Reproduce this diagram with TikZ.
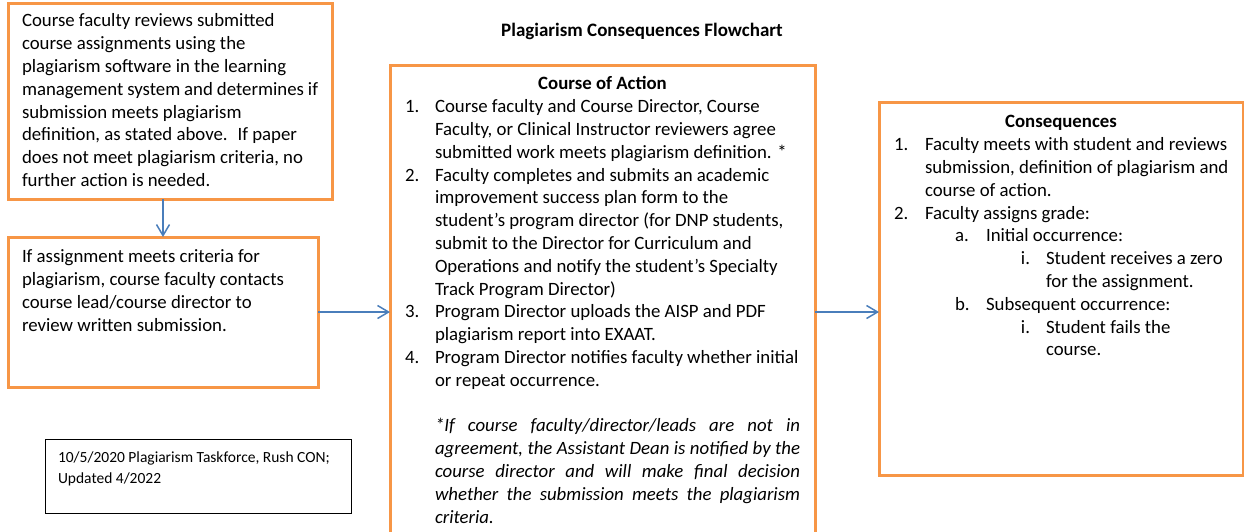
\documentclass[tikz,border=0pt]{standalone}
\usepackage{fontspec}
\setmainfont{Carlito}
\usepackage{enumitem}
\usetikzlibrary{arrows.meta,positioning}
\definecolor{edge}{HTML}{F79646}
\definecolor{link}{HTML}{4A7EBB}

% fixed-size text block used inside the boxes
\newcommand{\boxtext}[3]{\begin{minipage}[t][#2][t]{#1}\raggedright #3\end{minipage}}

\begin{document}
\begin{tikzpicture}[x=1pt,y=-1pt,>={Straight Barb[length=11pt,width=13pt]},
 box/.style={draw=edge,line width=3pt,outer sep=0pt,inner xsep=14pt,inner ysep=8pt,
 anchor=north west},
 memo/.style={draw=black,line width=1pt,outer sep=0pt,inner xsep=13pt,inner ysep=9pt,
 anchor=north west,font=\fontsize{15.5}{20.7}\selectfont},
 flow/.style={->,draw=link,line width=1.5pt},
 font=\fontsize{18.8}{22.8}\selectfont]
\useasboundingbox (0,0) rectangle (1244,531);
\clip (0,0) rectangle (1244,531);
\node[anchor=center,font=\fontsize{19}{22}\selectfont\bfseries] (title) at (642,31)
 {Plagiarism Consequences Flowchart};
% left column
\node[box] (review) at (8,3) {\boxtext{296pt}{180pt}{\strut Course faculty reviews submitted\\
 course assignments using the\\
 plagiarism software in the learning\\
 management system and determines if\\
 submission meets plagiarism\\
 definition, as stated above.~ If paper\\
 does not meet plagiarism criteria, no\\
 further action is needed.}};
\node[box,below right=38pt and 0pt of review.south west,inner ysep=10pt] (contact)
 {\boxtext{282pt}{130pt}{\strut If assignment meets criteria for\\
 plagiarism, course faculty contacts\\
 course lead/course director to\\
 review written submission.}};
\node[memo] (credit) at (45,439) {\boxtext{280pt}{56pt}{\strut 10/5/2020 Plagiarism Taskforce, Rush CON;\\
 Updated 4/2022}};
% middle column, runs off the bottom
\node[box,inner xsep=15pt,inner ysep=9pt] (action) at (390,65) {\boxtext{395pt}{477pt}{%
 {\centering\bfseries\strut Course of Action\par}
 \begin{enumerate}[nosep,leftmargin=30pt,labelwidth=30pt,labelsep=0pt,align=left,label=\arabic*.]
 \item Course faculty and Course Director, Course\\
 Faculty, or Clinical Instructor reviewers agree\\
 submitted work meets plagiarism definition. *
 \item Faculty completes and submits an academic\\
 improvement success plan form to the\\
 student’s program director (for DNP students,\\
 submit to the Director for Curriculum and\\
 Operations and notify the student’s Specialty\\
 Track Program Director)
 \item Program Director uploads the AISP and PDF\\
 plagiarism report into EXAAT.
 \item Program Director notifies faculty whether initial\\
 or repeat occurrence.
 \end{enumerate}
 \vspace{\baselineskip}
 {\leftskip=30pt\rightskip=0pt\itshape
 *If course faculty/director/leads are not in\linebreak
 agreement, the Assistant Dean is notified by the\linebreak
 course director and will make final decision\linebreak
 whether the submission meets the plagiarism\linebreak
 criteria.\par}}};
% right column
\node[box,inner xsep=15pt,inner ysep=10pt] (result) at (879,102) {\boxtext{334pt}{353pt}{%
 {\centering\bfseries\strut Consequences\par}
 \begin{enumerate}[nosep,leftmargin=31pt,labelwidth=31pt,labelsep=0pt,align=left,label=\arabic*.]
 \item Faculty meets with student and reviews\\
 \mbox{submission, definition of plagiarism and}\\
 course of action.
 \item Faculty assigns grade:
 \begin{enumerate}[nosep,leftmargin=61pt,labelwidth=31pt,labelsep=0pt,align=left,label=\alph*.]
 \item Initial occurrence:
 \begin{enumerate}[nosep,leftmargin=60pt,labelwidth=20pt,labelsep=16pt,align=right,label=\roman*.]
 \item Student receives a zero\\ for the assignment.
 \end{enumerate}
 \item Subsequent occurrence:
 \begin{enumerate}[nosep,leftmargin=60pt,labelwidth=20pt,labelsep=16pt,align=right,label=\roman*.]
 \item Student fails the\\ course.
 \end{enumerate}
 \end{enumerate}
 \end{enumerate}}};
% connectors
\draw[flow] (contact.north |- review.south) -- (contact.north);
\draw[flow] (contact.east) -- (contact.east -| action.west);
\draw[flow] (action.east |- contact.east) -- (result.west |- contact.east);
\end{tikzpicture}
\end{document}
